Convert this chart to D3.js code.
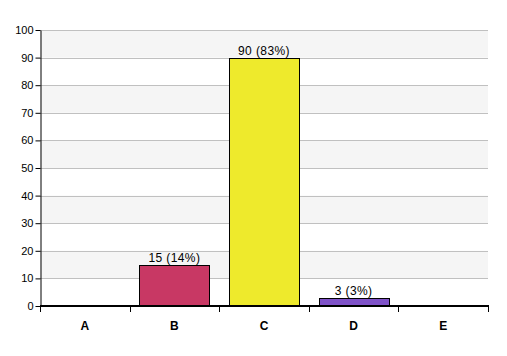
<!DOCTYPE html>
<html><head><meta charset="utf-8">
<script src="https://cdn.jsdelivr.net/npm/d3@7"></script>
<style>body{margin:0;background:#fff}svg{display:block}text{font-family:"Liberation Sans",Arial,sans-serif}</style>
</head><body>
<svg id="c" width="507" height="356"></svg>
<script>
const categories = ["A","B","C","D","E"];
const values = [0,15,90,3,0];
const labels = ["","15 (14%)","90 (83%)","3 (3%)",""];
const colors = ["#c0c0c0","#c83864","#eeea2c","#7f52c8","#c0c0c0"];
const yTicks = [0,10,20,30,40,50,60,70,80,90,100];

const svg = d3.select("#c");
const L=40,R=488,T=30,B=306;
const x = d3.scaleBand().domain(categories).range([L,R]).paddingInner(0.22).paddingOuter(0.11);
const xb = d3.scaleBand().domain(categories).range([L,R]);
const y = d3.scaleLinear().domain([0,100]).range([B,T]);

// alternating bands
for(let i=0;i<yTicks.length-1;i++){
  if(i%2===1){
    svg.append("rect").attr("x",L).attr("y",y(yTicks[i+1])).attr("width",R-L)
      .attr("height",y(yTicks[i])-y(yTicks[i+1])).attr("fill","#f5f5f5");
  }
}
// gridlines
svg.append("g").selectAll("line").data(yTicks.slice(1)).join("line")
  .attr("x1",L).attr("x2",R).attr("y1",d=>Math.round(y(d))+0.5).attr("y2",d=>Math.round(y(d))+0.5)
  .attr("stroke","#c0c0c0");

// bars
svg.append("g").selectAll("rect").data(categories.map((c,i)=>({c,v:values[i],col:colors[i]})).filter(d=>d.v>0)).join("rect")
  .attr("x",d=>Math.round(x(d.c))+0.5).attr("y",d=>Math.round(y(d.v))+0.5)
  .attr("width",Math.round(x.bandwidth())).attr("height",d=>Math.round(y(0))-Math.round(y(d.v)))
  .attr("fill",d=>d.col).attr("stroke","#000").attr("stroke-width",1);

// value labels
svg.append("g").selectAll("text").data(categories.map((c,i)=>({c,v:values[i],t:labels[i]})).filter(d=>d.t)).join("text")
  .attr("x",d=>x(d.c)+x.bandwidth()/2).attr("y",d=>y(d.v)-3)
  .attr("text-anchor","middle").attr("font-size","12px").attr("letter-spacing","0.4px")
  .attr("fill","#000").text(d=>d.t);

// y axis
const ya = svg.append("g").attr("transform",`translate(${L+0.5},0)`)
  .call(d3.axisLeft(y).tickValues(yTicks).tickSize(5).tickSizeOuter(0));
ya.select(".domain").attr("stroke","#000");
ya.selectAll("text").attr("font-size","11px").attr("font-family","Liberation Sans, Arial, sans-serif").attr("dx","1");

// x axis
const xa = svg.append("g").attr("transform",`translate(0,${B})`)
  .call(d3.axisBottom(xb).tickSize(0).tickSizeOuter(0));
xa.select(".domain").remove();
xa.selectAll("text").attr("font-size","12px").attr("font-weight","bold")
  .attr("font-family","Liberation Sans, Arial, sans-serif").attr("dy","0").attr("y",24);
svg.append("line").attr("x1",L).attr("x2",R+1).attr("y1",B).attr("y2",B).attr("stroke","#000").attr("stroke-width",2);
svg.append("g").selectAll("line").data(d3.range(categories.length+1)).join("line")
  .attr("x1",i=>Math.round(L+i*xb.step())+0.5).attr("x2",i=>Math.round(L+i*xb.step())+0.5)
  .attr("y1",B).attr("y2",B+6).attr("stroke","#000");
</script>
</body></html>
